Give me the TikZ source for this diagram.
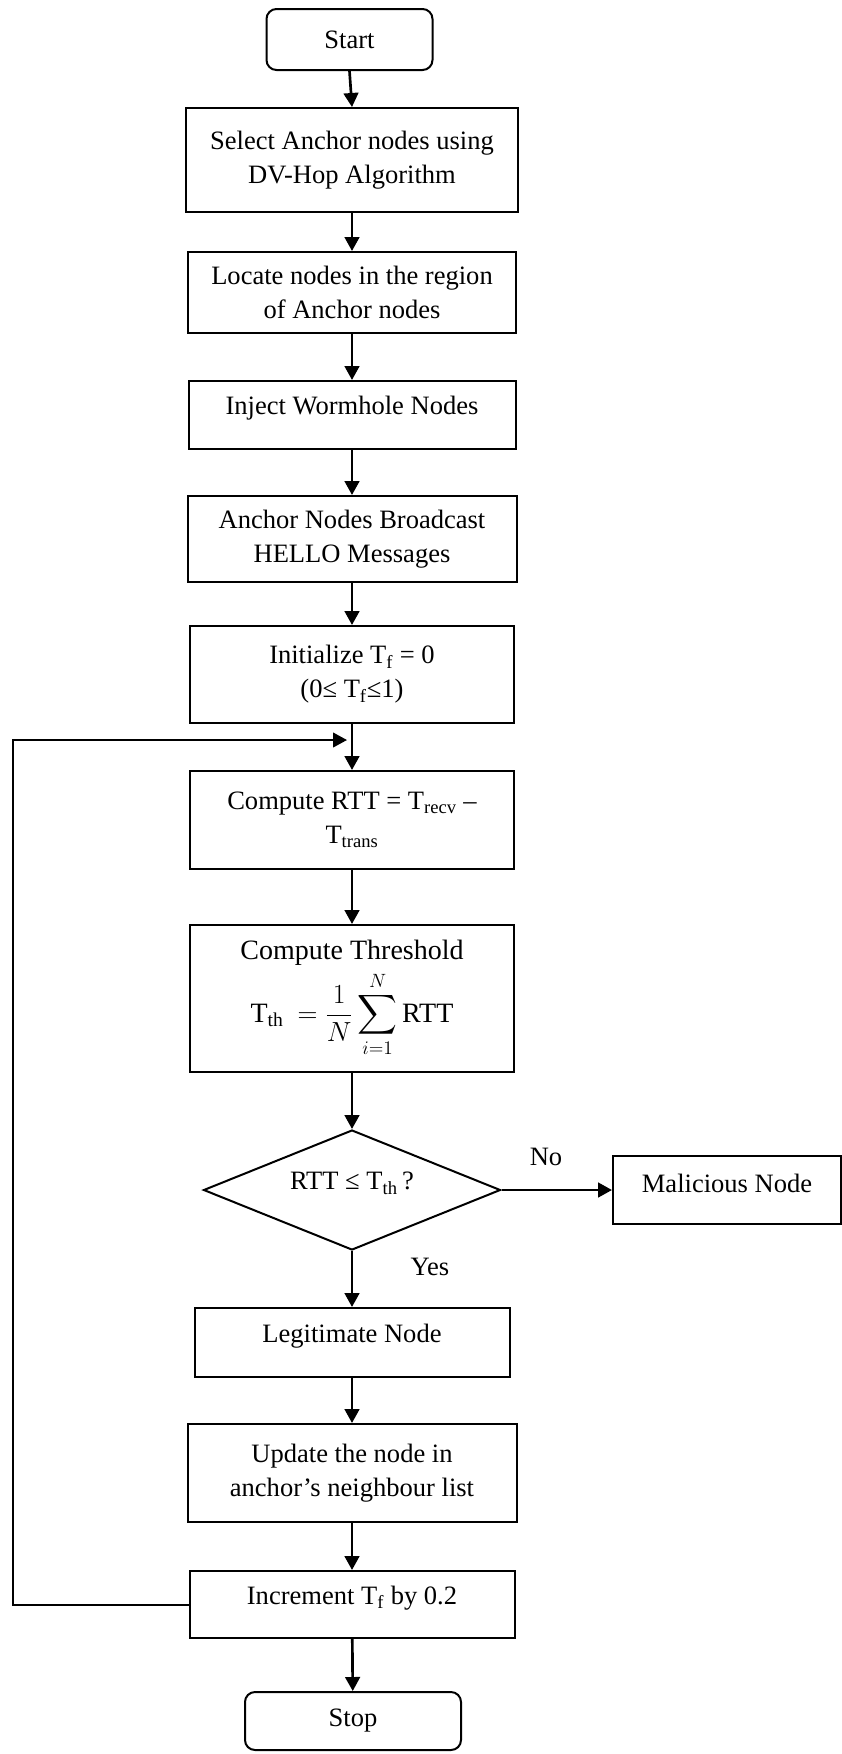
\documentclass[tikz,border=0pt]{standalone}
\usepackage{amsmath}
\usepackage{fontspec}
\setmainfont{Liberation Serif}
\usetikzlibrary{shapes.geometric,arrows.meta}
% raise a single line of text inside its box without changing the box size
\newcommand{\lift}[1]{\raisebox{5pt}[\height][\depth]{#1}}

\begin{document}
\begin{tikzpicture}[x=0.75pt,y=-0.75pt,
  every node/.style={font=\fontsize{19.9}{25.5}\selectfont},
  stepbox/.style={draw, line width=1.5pt, rectangle, align=center, inner sep=2pt},
  termbox/.style={draw, line width=1.5pt, rounded corners=7.5pt, align=center},
  decision/.style={draw, diamond, line width=1.5pt, inner sep=0pt, aspect=2.475},
  flow/.style={line width=2pt, -{Triangle[length=10.5pt,width=11pt]}},
  loopline/.style={line width=1.5pt, -{Triangle[length=10.5pt,width=11pt]}},
  tag/.style={inner sep=0pt}
]
\useasboundingbox (0,0) rectangle (842,1754);

% main column
\node[termbox, minimum width=124.5pt, minimum height=45.75pt] (start) at (349.5,39.5) {Start};
\node[stepbox, minimum width=249pt, minimum height=78pt] (select) at (352,160)
  {Select Anchor nodes using\\DV-Hop Algorithm};
\node[stepbox, minimum width=246pt, minimum height=60.75pt] (locate) at (352,292.5)
  {Locate nodes in the region\\of Anchor nodes};
\node[stepbox, minimum width=245.25pt, minimum height=51pt] (inject) at (352,415)
  {\lift{Inject Wormhole Nodes}};
\node[stepbox, minimum width=246.75pt, minimum height=64.5pt] (hello) at (352,539)
  {Anchor Nodes Broadcast\\HELLO Messages};
\node[stepbox, minimum width=243pt, minimum height=72.75pt] (init) at (352,674.5)
  {Initialize T\textsubscript{f} = 0\\(0≤ T\textsubscript{f}≤1)};
\node[stepbox, minimum width=243pt, minimum height=73.5pt] (rtt) at (352,820)
  {Compute RTT = T\textsubscript{recv} –\\T\textsubscript{trans}};
\node[stepbox, minimum width=243pt, minimum height=110.25pt,
      font=\fontsize{21}{26}\selectfont] (thresh) at (352,998.5)
  {Compute Threshold\\[4pt]
   T\textsubscript{th}\ \ $=\displaystyle\frac{1}{N}\sum_{i=1}^{N}$\,RTT};
\node[decision, minimum width=222.75pt, minimum height=90pt] (check) at (352,1190)
  {\lift{RTT ≤ T\textsubscript{th}\,?}};
\node[stepbox, minimum width=236.25pt, minimum height=51.75pt] (legit) at (352,1342.5)
  {\lift{Legitimate Node}};
\node[stepbox, minimum width=171pt, minimum height=51pt] (mal) at (727,1190)
  {\lift{Malicious Node}};
\node[stepbox, minimum width=246.75pt, minimum height=73.5pt] (update) at (352,1473)
  {Update the node in\\anchor’s neighbour list};
\node[stepbox, minimum width=243.75pt, minimum height=50.25pt] (incr) at (352,1604.5)
  {\lift{Increment T\textsubscript{f} by 0.2}};
\node[termbox, minimum width=162pt, minimum height=43.5pt] (stop) at (353,1721) {Stop};

% branch labels
\node[tag] (yes) at (430,1267) {Yes};
\node[tag] (no) at (546,1157) {No};

% loop-back route
\coordinate (loopL) at (12.7,740);
\coordinate (loopin) at (347,740);

% connectors
\draw[flow] (start.south) -- (select.north);
\draw[flow] (select) -- (locate);
\draw[flow] (locate) -- (inject);
\draw[flow] (inject) -- (hello);
\draw[flow] (hello) -- (init);
\draw[flow] (init) -- (rtt);
\draw[flow] (rtt) -- (thresh);
\draw[flow] (thresh) -- (check);
\draw[flow] (check) -- (legit);
\draw[flow] (check.east) -- (mal.west);
\draw[flow] (legit) -- (update);
\draw[flow] (update) -- (incr);
\draw[flow] (incr) -- (stop);
\draw[loopline] (incr.west) -| (loopL) -- (loopin);
\end{tikzpicture}
\end{document}
